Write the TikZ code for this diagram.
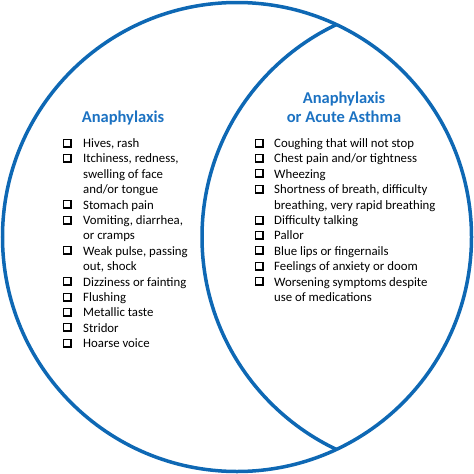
\documentclass[tikz,border=0pt]{standalone}
\usepackage{fontspec}
\setmainfont{Carlito}
\definecolor{vblue}{RGB}{14,104,180}
\definecolor{tblue}{RGB}{28,114,194}
\newcommand\chkbox[2]{%
  \fill[black] (#1,#2) rectangle (#1+9,#2-9);
  \fill[white] (#1+1,#2-2) rectangle (#1+7,#2-8);}
\begin{document}
\begin{tikzpicture}[x=1pt,y=-1pt,
  ring/.style={draw=vblue,line width=3.5pt},
  item/.style={anchor=base west,inner sep=0pt,font=\fontsize{12.8}{15.4}\selectfont},
  title/.style={anchor=base,inner sep=0pt,text=tblue,font=\fontsize{16.5}{19}\selectfont\bfseries}]
\useasboundingbox (0,0) rectangle (474,474);
\draw[ring] (237,237) circle[radius=234.5];
\begin{scope}
  \clip (237,237) circle[radius=234.5];
  \draw[ring] (437,237) circle[radius=235];
\end{scope}
\node[title] (tl) at (123,122) {Anaphylaxis};
\node[title] (tr1) at (344,103) {Anaphylaxis};
\node[title] (tr2) at (344,122) {or Acute Asthma};
\foreach \i/\t/\b in {0/{Hives, rash}/1, 1/{Itchiness, redness,}/1, 2/{swelling of face}/0, 3/{and/or tongue}/0, 4/{Stomach pain}/1, 5/{Vomiting, diarrhea,}/1, 6/{or cramps}/0, 7/{Weak pulse, passing}/1, 8/{out, shock}/0, 9/{Dizziness or fainting}/1, 10/{Flushing}/1, 11/{Metallic taste}/1, 12/{Stridor}/1, 13/{Hoarse voice}/1}{
  \pgfmathsetmacro\yy{147.5+15.4*\i}
  \node[item] (l\i) at (83,\yy) {\t};
  \ifnum\b=1 \chkbox{63}{\yy}\fi
}
\foreach \i/\t/\b in {0/{Coughing that will not stop}/1, 1/{Chest pain and/or tightness}/1, 2/{Wheezing}/1, 3/{Shortness of breath, difficulty}/1, 4/{breathing, very rapid breathing}/0, 5/{Difficulty talking}/1, 6/{Pallor}/1, 7/{Blue lips or fingernails}/1, 8/{Feelings of anxiety or doom}/1, 9/{Worsening symptoms despite}/1, 10/{use of medications}/0}{
  \pgfmathsetmacro\yy{147.5+15.4*\i}
  \node[item] (r\i) at (274,\yy) {\t};
  \ifnum\b=1 \chkbox{255}{\yy}\fi
}
\end{tikzpicture}
\end{document}
